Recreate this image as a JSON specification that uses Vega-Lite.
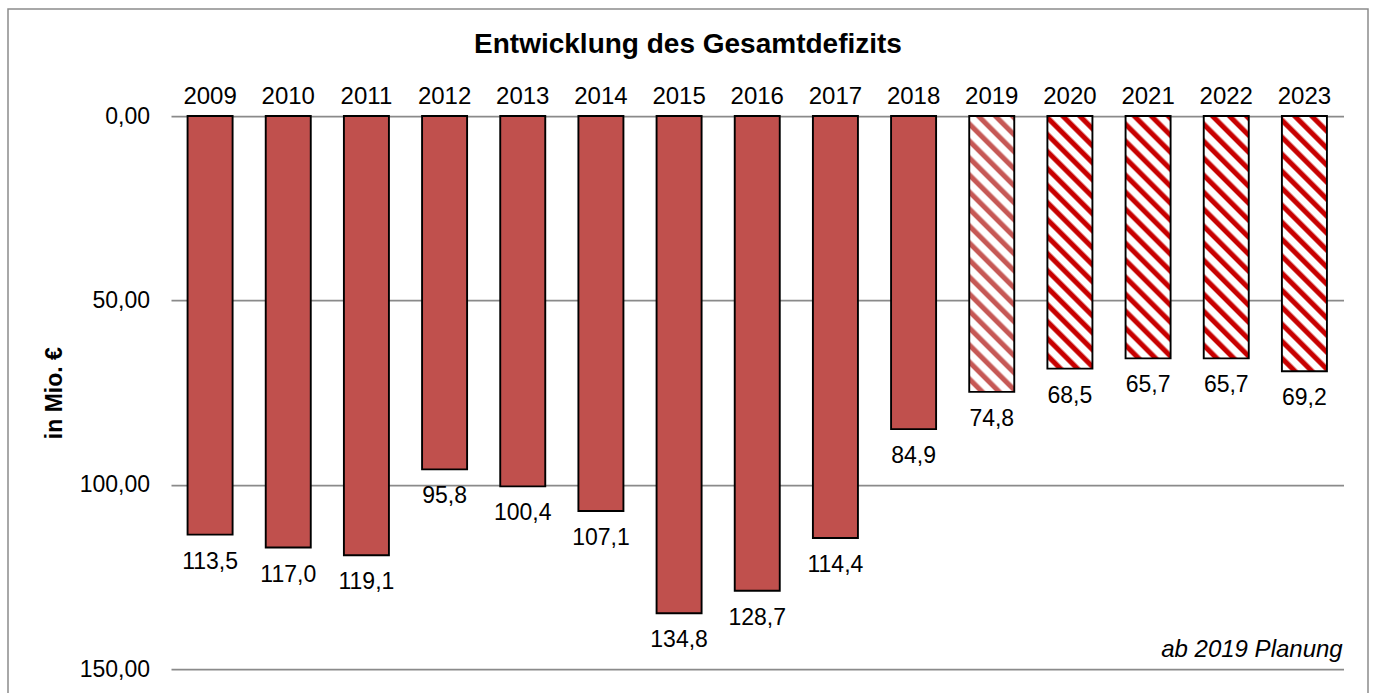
{
  "$schema": "https://vega.github.io/schema/vega-lite/v6.json",
  "width": 1360,
  "height": 687,
  "autosize": {"type": "none"},
  "padding": {"left": 8, "top": 9, "right": 7, "bottom": -3},
  "background": "#ffffff",
  "title": {"text": "Entwicklung des Gesamtdefizits", "offset": -78.1, "baseline": "bottom", "font": "Liberation Sans", "fontSize": 28, "fontWeight": "bold", "color": "#000000", "anchor": "middle", "frame": "group"},
  "data": {"values": [
    {"year": "2009", "value": 113.5},
    {"year": "2010", "value": 117.0},
    {"year": "2011", "value": 119.1},
    {"year": "2012", "value": 95.8},
    {"year": "2013", "value": 100.4},
    {"year": "2014", "value": 107.1},
    {"year": "2015", "value": 134.8},
    {"year": "2016", "value": 128.7},
    {"year": "2017", "value": 114.4},
    {"year": "2018", "value": 84.9},
    {"year": "2019", "value": 74.8},
    {"year": "2020", "value": 68.5},
    {"year": "2021", "value": 65.7},
    {"year": "2022", "value": 65.7},
    {"year": "2023", "value": 69.2}
  ]},
  "layer": [
    {
      "mark": {"type": "bar", "stroke": "#000000", "strokeWidth": 1.9},
      "encoding": {
        "x": {"field": "year", "type": "nominal", "sort": null,
          "scale": {"type": "band", "range": [163, 1335.5], "paddingInner": 0.424, "paddingOuter": 0.212},
          "axis": {"orient": "top", "offset": -107, "title": null, "domain": false, "ticks": false, "tickSize": 0, "labelPadding": 8, "labelAngle": 0, "labelFontSize": 24, "labelColor": "#000000", "labelFont": "Liberation Sans", "grid": false}},
        "y": {"field": "value", "type": "quantitative",
          "scale": {"domain": [0, 150], "range": [107, 660.3], "nice": false, "zero": true},
          "axis": {"orient": "left", "offset": -163, "values": [0, 50, 100, 150], "format": ".2f", "title": "in Mio. €", "titleFontSize": 23, "titleFontWeight": "bold", "titleFont": "Liberation Sans", "titleColor": "#000000", "titlePadding": 13, "labelFontSize": 23, "labelColor": "#000000", "labelFont": "Liberation Sans", "labelPadding": 21.5, "ticks": false, "tickSize": 0, "domain": false, "grid": true, "gridColor": "#8a8a8a", "gridWidth": 1.75}},
        "fill": {
          "condition": [
            {"test": "datum.year === '2019'", "value": {"gradient": "linear", "x1": 0, "y1": 1, "x2": 0.19586, "y2": -0.20034, "stops": [
              {"offset":0.003,"color":"#ffffff"},{"offset":0.025,"color":"#ffffff"},{"offset":0.031,"color":"#c65855"},{"offset":0.045,"color":"#c65855"},
              {"offset":0.053,"color":"#ffffff"},{"offset":0.075,"color":"#ffffff"},{"offset":0.081,"color":"#c65855"},{"offset":0.095,"color":"#c65855"},
              {"offset":0.103,"color":"#ffffff"},{"offset":0.125,"color":"#ffffff"},{"offset":0.131,"color":"#c65855"},{"offset":0.145,"color":"#c65855"},
              {"offset":0.153,"color":"#ffffff"},{"offset":0.175,"color":"#ffffff"},{"offset":0.181,"color":"#c65855"},{"offset":0.195,"color":"#c65855"},
              {"offset":0.203,"color":"#ffffff"},{"offset":0.225,"color":"#ffffff"},{"offset":0.231,"color":"#c65855"},{"offset":0.245,"color":"#c65855"},
              {"offset":0.253,"color":"#ffffff"},{"offset":0.275,"color":"#ffffff"},{"offset":0.281,"color":"#c65855"},{"offset":0.295,"color":"#c65855"},
              {"offset":0.303,"color":"#ffffff"},{"offset":0.325,"color":"#ffffff"},{"offset":0.331,"color":"#c65855"},{"offset":0.345,"color":"#c65855"},
              {"offset":0.353,"color":"#ffffff"},{"offset":0.375,"color":"#ffffff"},{"offset":0.381,"color":"#c65855"},{"offset":0.395,"color":"#c65855"},
              {"offset":0.403,"color":"#ffffff"},{"offset":0.425,"color":"#ffffff"},{"offset":0.431,"color":"#c65855"},{"offset":0.445,"color":"#c65855"},
              {"offset":0.453,"color":"#ffffff"},{"offset":0.475,"color":"#ffffff"},{"offset":0.481,"color":"#c65855"},{"offset":0.495,"color":"#c65855"},
              {"offset":0.503,"color":"#ffffff"},{"offset":0.525,"color":"#ffffff"},{"offset":0.531,"color":"#c65855"},{"offset":0.545,"color":"#c65855"},
              {"offset":0.553,"color":"#ffffff"},{"offset":0.575,"color":"#ffffff"},{"offset":0.581,"color":"#c65855"},{"offset":0.595,"color":"#c65855"},
              {"offset":0.603,"color":"#ffffff"},{"offset":0.625,"color":"#ffffff"},{"offset":0.631,"color":"#c65855"},{"offset":0.645,"color":"#c65855"},
              {"offset":0.653,"color":"#ffffff"},{"offset":0.675,"color":"#ffffff"},{"offset":0.681,"color":"#c65855"},{"offset":0.695,"color":"#c65855"},
              {"offset":0.703,"color":"#ffffff"},{"offset":0.725,"color":"#ffffff"},{"offset":0.731,"color":"#c65855"},{"offset":0.745,"color":"#c65855"},
              {"offset":0.753,"color":"#ffffff"},{"offset":0.775,"color":"#ffffff"},{"offset":0.781,"color":"#c65855"},{"offset":0.795,"color":"#c65855"},
              {"offset":0.803,"color":"#ffffff"},{"offset":0.825,"color":"#ffffff"},{"offset":0.831,"color":"#c65855"},{"offset":0.845,"color":"#c65855"},
              {"offset":0.853,"color":"#ffffff"},{"offset":0.875,"color":"#ffffff"},{"offset":0.881,"color":"#c65855"},{"offset":0.895,"color":"#c65855"},
              {"offset":0.903,"color":"#ffffff"},{"offset":0.925,"color":"#ffffff"},{"offset":0.931,"color":"#c65855"},{"offset":0.945,"color":"#c65855"},
              {"offset":0.953,"color":"#ffffff"},{"offset":0.975,"color":"#ffffff"},{"offset":0.981,"color":"#c65855"},{"offset":0.995,"color":"#c65855"}
            ]}},
            {"test": "datum.year === '2020'", "value": {"gradient": "linear", "x1": 0, "y1": 1, "x2": 0.23237, "y2": -0.30420, "stops": [
              {"offset":0.003,"color":"#ffffff"},{"offset":0.025,"color":"#ffffff"},{"offset":0.031,"color":"#c80000"},{"offset":0.045,"color":"#c80000"},
              {"offset":0.053,"color":"#ffffff"},{"offset":0.075,"color":"#ffffff"},{"offset":0.081,"color":"#c80000"},{"offset":0.095,"color":"#c80000"},
              {"offset":0.103,"color":"#ffffff"},{"offset":0.125,"color":"#ffffff"},{"offset":0.131,"color":"#c80000"},{"offset":0.145,"color":"#c80000"},
              {"offset":0.153,"color":"#ffffff"},{"offset":0.175,"color":"#ffffff"},{"offset":0.181,"color":"#c80000"},{"offset":0.195,"color":"#c80000"},
              {"offset":0.203,"color":"#ffffff"},{"offset":0.225,"color":"#ffffff"},{"offset":0.231,"color":"#c80000"},{"offset":0.245,"color":"#c80000"},
              {"offset":0.253,"color":"#ffffff"},{"offset":0.275,"color":"#ffffff"},{"offset":0.281,"color":"#c80000"},{"offset":0.295,"color":"#c80000"},
              {"offset":0.303,"color":"#ffffff"},{"offset":0.325,"color":"#ffffff"},{"offset":0.331,"color":"#c80000"},{"offset":0.345,"color":"#c80000"},
              {"offset":0.353,"color":"#ffffff"},{"offset":0.375,"color":"#ffffff"},{"offset":0.381,"color":"#c80000"},{"offset":0.395,"color":"#c80000"},
              {"offset":0.403,"color":"#ffffff"},{"offset":0.425,"color":"#ffffff"},{"offset":0.431,"color":"#c80000"},{"offset":0.445,"color":"#c80000"},
              {"offset":0.453,"color":"#ffffff"},{"offset":0.475,"color":"#ffffff"},{"offset":0.481,"color":"#c80000"},{"offset":0.495,"color":"#c80000"},
              {"offset":0.503,"color":"#ffffff"},{"offset":0.525,"color":"#ffffff"},{"offset":0.531,"color":"#c80000"},{"offset":0.545,"color":"#c80000"},
              {"offset":0.553,"color":"#ffffff"},{"offset":0.575,"color":"#ffffff"},{"offset":0.581,"color":"#c80000"},{"offset":0.595,"color":"#c80000"},
              {"offset":0.603,"color":"#ffffff"},{"offset":0.625,"color":"#ffffff"},{"offset":0.631,"color":"#c80000"},{"offset":0.645,"color":"#c80000"},
              {"offset":0.653,"color":"#ffffff"},{"offset":0.675,"color":"#ffffff"},{"offset":0.681,"color":"#c80000"},{"offset":0.695,"color":"#c80000"},
              {"offset":0.703,"color":"#ffffff"},{"offset":0.725,"color":"#ffffff"},{"offset":0.731,"color":"#c80000"},{"offset":0.745,"color":"#c80000"},
              {"offset":0.753,"color":"#ffffff"},{"offset":0.775,"color":"#ffffff"},{"offset":0.781,"color":"#c80000"},{"offset":0.795,"color":"#c80000"},
              {"offset":0.803,"color":"#ffffff"},{"offset":0.825,"color":"#ffffff"},{"offset":0.831,"color":"#c80000"},{"offset":0.845,"color":"#c80000"},
              {"offset":0.853,"color":"#ffffff"},{"offset":0.875,"color":"#ffffff"},{"offset":0.881,"color":"#c80000"},{"offset":0.895,"color":"#c80000"},
              {"offset":0.903,"color":"#ffffff"},{"offset":0.925,"color":"#ffffff"},{"offset":0.931,"color":"#c80000"},{"offset":0.945,"color":"#c80000"},
              {"offset":0.953,"color":"#ffffff"},{"offset":0.975,"color":"#ffffff"},{"offset":0.981,"color":"#c80000"},{"offset":0.995,"color":"#c80000"}
            ]}},
            {"test": "datum.year === '2021' || datum.year === '2022'", "value": {"gradient": "linear", "x1": 0, "y1": 1, "x2": 0.25191, "y2": -0.35608, "stops": [
              {"offset":0.003,"color":"#ffffff"},{"offset":0.025,"color":"#ffffff"},{"offset":0.031,"color":"#c80000"},{"offset":0.045,"color":"#c80000"},
              {"offset":0.053,"color":"#ffffff"},{"offset":0.075,"color":"#ffffff"},{"offset":0.081,"color":"#c80000"},{"offset":0.095,"color":"#c80000"},
              {"offset":0.103,"color":"#ffffff"},{"offset":0.125,"color":"#ffffff"},{"offset":0.131,"color":"#c80000"},{"offset":0.145,"color":"#c80000"},
              {"offset":0.153,"color":"#ffffff"},{"offset":0.175,"color":"#ffffff"},{"offset":0.181,"color":"#c80000"},{"offset":0.195,"color":"#c80000"},
              {"offset":0.203,"color":"#ffffff"},{"offset":0.225,"color":"#ffffff"},{"offset":0.231,"color":"#c80000"},{"offset":0.245,"color":"#c80000"},
              {"offset":0.253,"color":"#ffffff"},{"offset":0.275,"color":"#ffffff"},{"offset":0.281,"color":"#c80000"},{"offset":0.295,"color":"#c80000"},
              {"offset":0.303,"color":"#ffffff"},{"offset":0.325,"color":"#ffffff"},{"offset":0.331,"color":"#c80000"},{"offset":0.345,"color":"#c80000"},
              {"offset":0.353,"color":"#ffffff"},{"offset":0.375,"color":"#ffffff"},{"offset":0.381,"color":"#c80000"},{"offset":0.395,"color":"#c80000"},
              {"offset":0.403,"color":"#ffffff"},{"offset":0.425,"color":"#ffffff"},{"offset":0.431,"color":"#c80000"},{"offset":0.445,"color":"#c80000"},
              {"offset":0.453,"color":"#ffffff"},{"offset":0.475,"color":"#ffffff"},{"offset":0.481,"color":"#c80000"},{"offset":0.495,"color":"#c80000"},
              {"offset":0.503,"color":"#ffffff"},{"offset":0.525,"color":"#ffffff"},{"offset":0.531,"color":"#c80000"},{"offset":0.545,"color":"#c80000"},
              {"offset":0.553,"color":"#ffffff"},{"offset":0.575,"color":"#ffffff"},{"offset":0.581,"color":"#c80000"},{"offset":0.595,"color":"#c80000"},
              {"offset":0.603,"color":"#ffffff"},{"offset":0.625,"color":"#ffffff"},{"offset":0.631,"color":"#c80000"},{"offset":0.645,"color":"#c80000"},
              {"offset":0.653,"color":"#ffffff"},{"offset":0.675,"color":"#ffffff"},{"offset":0.681,"color":"#c80000"},{"offset":0.695,"color":"#c80000"},
              {"offset":0.703,"color":"#ffffff"},{"offset":0.725,"color":"#ffffff"},{"offset":0.731,"color":"#c80000"},{"offset":0.745,"color":"#c80000"},
              {"offset":0.753,"color":"#ffffff"},{"offset":0.775,"color":"#ffffff"},{"offset":0.781,"color":"#c80000"},{"offset":0.795,"color":"#c80000"},
              {"offset":0.803,"color":"#ffffff"},{"offset":0.825,"color":"#ffffff"},{"offset":0.831,"color":"#c80000"},{"offset":0.845,"color":"#c80000"},
              {"offset":0.853,"color":"#ffffff"},{"offset":0.875,"color":"#ffffff"},{"offset":0.881,"color":"#c80000"},{"offset":0.895,"color":"#c80000"},
              {"offset":0.903,"color":"#ffffff"},{"offset":0.925,"color":"#ffffff"},{"offset":0.931,"color":"#c80000"},{"offset":0.945,"color":"#c80000"},
              {"offset":0.953,"color":"#ffffff"},{"offset":0.975,"color":"#ffffff"},{"offset":0.981,"color":"#c80000"},{"offset":0.995,"color":"#c80000"}
            ]}},
            {"test": "datum.year === '2023'", "value": {"gradient": "linear", "x1": 0, "y1": 1, "x2": 0.22783, "y2": -0.29178, "stops": [
              {"offset":0.003,"color":"#ffffff"},{"offset":0.025,"color":"#ffffff"},{"offset":0.031,"color":"#c80000"},{"offset":0.045,"color":"#c80000"},
              {"offset":0.053,"color":"#ffffff"},{"offset":0.075,"color":"#ffffff"},{"offset":0.081,"color":"#c80000"},{"offset":0.095,"color":"#c80000"},
              {"offset":0.103,"color":"#ffffff"},{"offset":0.125,"color":"#ffffff"},{"offset":0.131,"color":"#c80000"},{"offset":0.145,"color":"#c80000"},
              {"offset":0.153,"color":"#ffffff"},{"offset":0.175,"color":"#ffffff"},{"offset":0.181,"color":"#c80000"},{"offset":0.195,"color":"#c80000"},
              {"offset":0.203,"color":"#ffffff"},{"offset":0.225,"color":"#ffffff"},{"offset":0.231,"color":"#c80000"},{"offset":0.245,"color":"#c80000"},
              {"offset":0.253,"color":"#ffffff"},{"offset":0.275,"color":"#ffffff"},{"offset":0.281,"color":"#c80000"},{"offset":0.295,"color":"#c80000"},
              {"offset":0.303,"color":"#ffffff"},{"offset":0.325,"color":"#ffffff"},{"offset":0.331,"color":"#c80000"},{"offset":0.345,"color":"#c80000"},
              {"offset":0.353,"color":"#ffffff"},{"offset":0.375,"color":"#ffffff"},{"offset":0.381,"color":"#c80000"},{"offset":0.395,"color":"#c80000"},
              {"offset":0.403,"color":"#ffffff"},{"offset":0.425,"color":"#ffffff"},{"offset":0.431,"color":"#c80000"},{"offset":0.445,"color":"#c80000"},
              {"offset":0.453,"color":"#ffffff"},{"offset":0.475,"color":"#ffffff"},{"offset":0.481,"color":"#c80000"},{"offset":0.495,"color":"#c80000"},
              {"offset":0.503,"color":"#ffffff"},{"offset":0.525,"color":"#ffffff"},{"offset":0.531,"color":"#c80000"},{"offset":0.545,"color":"#c80000"},
              {"offset":0.553,"color":"#ffffff"},{"offset":0.575,"color":"#ffffff"},{"offset":0.581,"color":"#c80000"},{"offset":0.595,"color":"#c80000"},
              {"offset":0.603,"color":"#ffffff"},{"offset":0.625,"color":"#ffffff"},{"offset":0.631,"color":"#c80000"},{"offset":0.645,"color":"#c80000"},
              {"offset":0.653,"color":"#ffffff"},{"offset":0.675,"color":"#ffffff"},{"offset":0.681,"color":"#c80000"},{"offset":0.695,"color":"#c80000"},
              {"offset":0.703,"color":"#ffffff"},{"offset":0.725,"color":"#ffffff"},{"offset":0.731,"color":"#c80000"},{"offset":0.745,"color":"#c80000"},
              {"offset":0.753,"color":"#ffffff"},{"offset":0.775,"color":"#ffffff"},{"offset":0.781,"color":"#c80000"},{"offset":0.795,"color":"#c80000"},
              {"offset":0.803,"color":"#ffffff"},{"offset":0.825,"color":"#ffffff"},{"offset":0.831,"color":"#c80000"},{"offset":0.845,"color":"#c80000"},
              {"offset":0.853,"color":"#ffffff"},{"offset":0.875,"color":"#ffffff"},{"offset":0.881,"color":"#c80000"},{"offset":0.895,"color":"#c80000"},
              {"offset":0.903,"color":"#ffffff"},{"offset":0.925,"color":"#ffffff"},{"offset":0.931,"color":"#c80000"},{"offset":0.945,"color":"#c80000"},
              {"offset":0.953,"color":"#ffffff"},{"offset":0.975,"color":"#ffffff"},{"offset":0.981,"color":"#c80000"},{"offset":0.995,"color":"#c80000"}
            ]}}
          ],
          "value": "#c0504d"
        }
      }
    },
    {
      "mark": {"type": "text", "baseline": "middle", "dy": 27, "fontSize": 23, "font": "Liberation Sans", "color": "#000000"},
      "encoding": {
        "x": {"field": "year", "type": "nominal", "sort": null},
        "y": {"field": "value", "type": "quantitative"},
        "text": {"field": "value", "type": "quantitative", "format": ".1f"}
      }
    },
    {
      "data": {"values": [{"note": "ab 2019 Planung"}]},
      "mark": {"type": "text", "align": "right", "baseline": "middle", "dx": -25.3, "dy": -46, "fontSize": 24, "fontStyle": "italic", "font": "Liberation Sans", "color": "#000000"},
      "encoding": {
        "x": {"value": "width"},
        "y": {"value": "height"},
        "text": {"field": "note", "type": "nominal"}
      }
    }
  ],
  "config": {
    "view": {"stroke": "#8c8c8c", "strokeWidth": 1.5},
    "font": "Liberation Sans",
    "locale": {"number": {"decimal": ",", "thousands": ".", "grouping": [3], "currency": ["", " €"]}}
  }
}
